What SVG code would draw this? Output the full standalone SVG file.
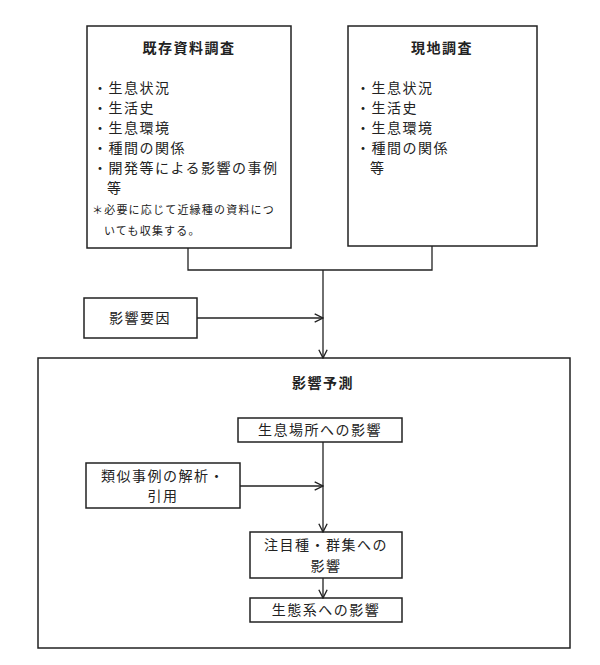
<svg xmlns="http://www.w3.org/2000/svg" width="600" height="665" viewBox="0 0 600 665">
<style>
rect{fill:#fff;stroke:#222;stroke-width:1.5}
text{font-family:"Noto Sans CJK JP",sans-serif;font-size:14px;letter-spacing:1.5px;fill:#222}
.b{font-weight:bold;font-size:14px}
.s{font-size:11px;letter-spacing:1.2px}
.c{text-anchor:middle}
#conn path{fill:none;stroke:#222;stroke-width:1.3}
</style>
<defs><marker id="a" viewBox="0 0 10 10" refX="9" refY="5" markerWidth="8" markerHeight="8" orient="auto"><path d="M1,1L9,5L1,9" fill="none" stroke="#222" stroke-width="1.3"/></marker></defs>
<rect width="600" height="665" style="fill:#fff;stroke:none"/>
<g id="n1"><rect x="87" y="26" width="204" height="222"/>
<text class="b c" x="189" y="53">既存資料調査</text>
<text x="93" y="93">・生息状況</text><text x="93" y="113">・生活史</text><text x="93" y="133">・生息環境</text><text x="93" y="153">・種間の関係</text><text x="93" y="173">・開発等による影響の事例</text><text x="107" y="193">等</text>
<text class="s" x="92" y="214">＊必要に応じて近縁種の資料につ</text><text class="s" x="104" y="235">いても収集する。</text></g>
<g id="n2"><rect x="348" y="26" width="189" height="220"/>
<text class="b c" x="442" y="53">現地調査</text>
<text x="356" y="93">・生息状況</text><text x="356" y="113">・生活史</text><text x="356" y="133">・生息環境</text><text x="356" y="153">・種間の関係</text><text x="370" y="173">等</text></g>
<g id="n3"><rect x="84" y="298" width="113" height="40"/><text class="c" x="140" y="323">影響要因</text></g>
<g id="n4"><rect x="38" y="358" width="532" height="290"/><text class="b c" x="323" y="388">影響予測</text></g>
<g id="n5"><rect x="238" y="418" width="164" height="24"/><text class="c" x="320" y="435">生息場所への影響</text></g>
<g id="n6"><rect x="86" y="463" width="154" height="45"/><text class="c" x="163" y="481">類似事例の解析・</text><text class="c" x="163" y="501">引用</text></g>
<g id="n7"><rect x="250" y="532" width="152" height="46"/><text class="c" x="326" y="550">注目種・群集への</text><text class="c" x="326" y="571">影響</text></g>
<g id="n8"><rect x="250" y="598" width="152" height="24"/><text class="c" x="326" y="615">生態系への影響</text></g>
<g id="conn">
<path d="M188,248V270H432V246"/>
<path d="M323,270V358" marker-end="url(#a)"/>
<path d="M197,318H323" marker-end="url(#a)"/>
<path d="M323,442V532" marker-end="url(#a)"/>
<path d="M240,486H323" marker-end="url(#a)"/>
<path d="M323,578V598" marker-end="url(#a)"/>
</g>
</svg>
